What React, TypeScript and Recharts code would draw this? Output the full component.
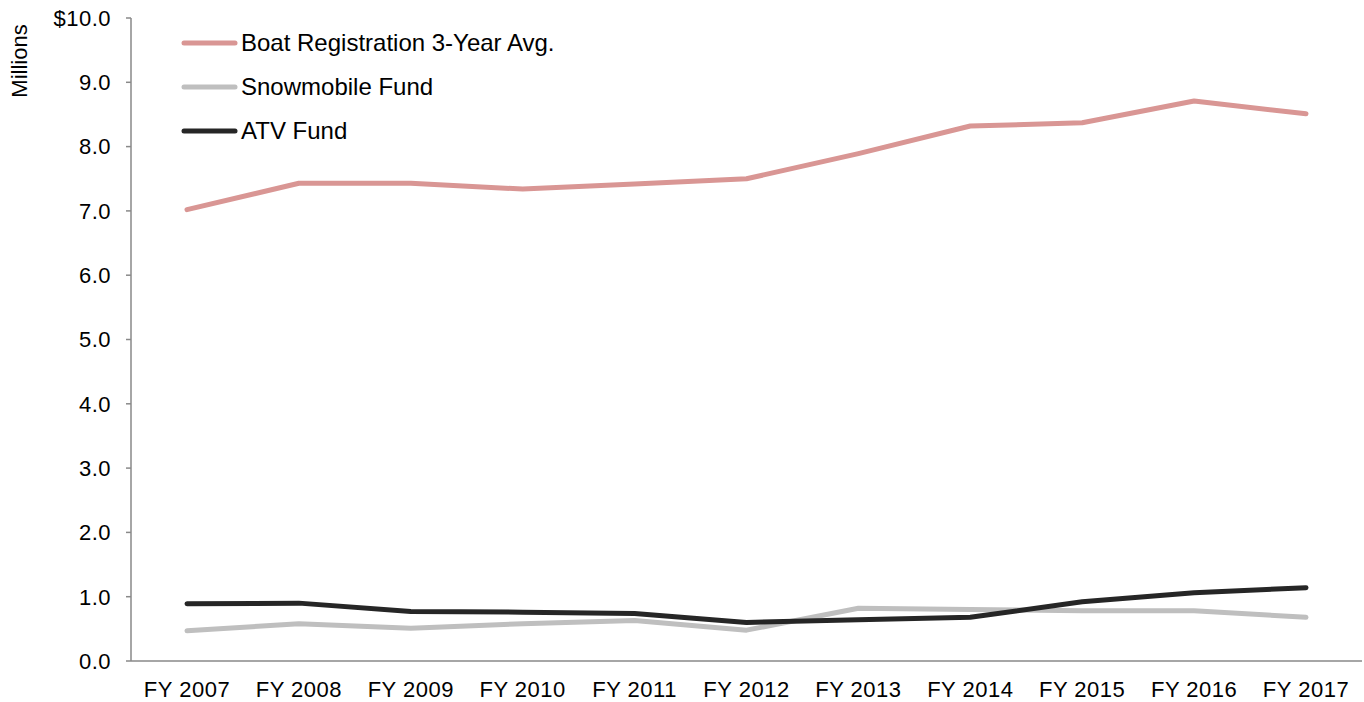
import React from 'react';
import { LineChart, Line, XAxis, YAxis } from 'recharts';

const categories = ['FY 2007', 'FY 2008', 'FY 2009', 'FY 2010', 'FY 2011', 'FY 2012', 'FY 2013', 'FY 2014', 'FY 2015', 'FY 2016', 'FY 2017'];
const boat = [7.02, 7.43, 7.43, 7.34, 7.42, 7.50, 7.89, 8.32, 8.37, 8.71, 8.51];
const snowmobile = [0.47, 0.58, 0.51, 0.58, 0.63, 0.48, 0.82, 0.80, 0.78, 0.78, 0.68];
const atv = [0.89, 0.90, 0.77, 0.76, 0.74, 0.60, 0.64, 0.68, 0.92, 1.06, 1.14];
const yTicks = [0, 1, 2, 3, 4, 5, 6, 7, 8, 9, 10];

const seriesInfo = [
  { key: 'boat', name: 'Boat Registration 3-Year Avg.', color: '#D99694' },
  { key: 'snow', name: 'Snowmobile Fund', color: '#BFBFBF' },
  { key: 'atv', name: 'ATV Fund', color: '#262626' },
];

const data = categories.map((c, i) => ({ name: c, boat: boat[i], snow: snowmobile[i], atv: atv[i] }));

const FONT = '"Liberation Sans", Arial, sans-serif';

const LegendBox = () => (
  <div style={{ position: 'absolute', left: 179, top: 21, fontFamily: FONT, fontSize: 24, color: '#000', lineHeight: 1 }}>
    {seriesInfo.map((s) => (
      <div key={s.key} style={{ display: 'flex', alignItems: 'center', height: 44 }}>
        <svg width={60} height={10} style={{ display: 'block' }}>
          <line x1={5} y1={5} x2={56} y2={5} stroke={s.color} strokeWidth={5} strokeLinecap="round" />
        </svg>
        <span style={{ marginLeft: 2 }}>{s.name}</span>
      </div>
    ))}
  </div>
);

const MillionsLabel = () => (
  <text
    x={0}
    y={0}
    transform="translate(27, 61) rotate(-90)"
    textAnchor="middle"
    style={{ fontFamily: FONT, fontSize: 22, fill: '#000' }}
  >
    Millions
  </text>
);

export default function App() {
  return (
    <div style={{ position: 'absolute', left: 0, top: 0, width: 1364, height: 702, background: '#fff' }}>
      <LineChart width={1364} height={702} data={data} margin={{ top: 18, right: 2, bottom: 0, left: 0 }}>
        <XAxis
          dataKey="name"
          height={41}
          padding={{ left: 56, right: 56 }}
          axisLine={{ stroke: '#898989', strokeWidth: 1.5 }}
          tickLine={false}
          tickSize={0}
          tickMargin={20}
          tick={{ fill: '#000', fontSize: 22, fontFamily: FONT, letterSpacing: 0.5 }}
          interval={0}
        />
        <YAxis
          width={131}
          domain={[0, 10]}
          ticks={yTicks}
          interval={0}
          tickFormatter={(v: number) => (v === 10 ? '$10.0' : v.toFixed(1))}
          axisLine={{ stroke: '#898989', strokeWidth: 1.5 }}
          tickLine={{ stroke: '#898989', strokeWidth: 1.5 }}
          tickSize={5}
          tickMargin={15}
          tick={{ fill: '#000', fontSize: 22, fontFamily: FONT, letterSpacing: 0.5 }}
          label={{ content: () => <MillionsLabel /> }}
        />
        {seriesInfo.map((s) => (
          <Line
            key={s.key}
            type="linear"
            dataKey={s.key}
            name={s.name}
            stroke={s.color}
            strokeWidth={5}
            strokeLinecap="round"
            strokeLinejoin="round"
            dot={false}
            activeDot={false}
            isAnimationActive={false}
          />
        ))}
      </LineChart>
      <LegendBox />
    </div>
  );
}
